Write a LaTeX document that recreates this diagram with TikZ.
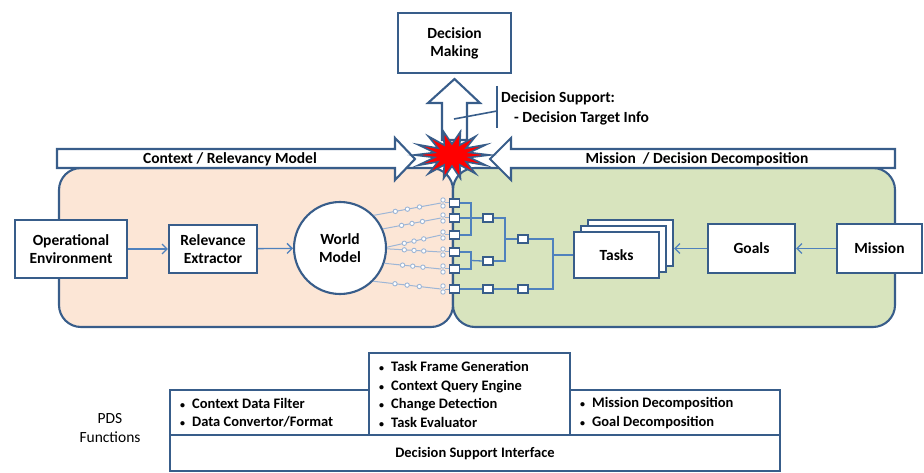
\documentclass[tikz,border=0pt]{standalone}
\usepackage{fontspec}
\setmainfont{Carlito}
\usetikzlibrary{arrows.meta,calc}
\definecolor{outl}{HTML}{385D8A}
\definecolor{connc}{HTML}{4F81BD}
\definecolor{litec}{HTML}{9DB6D6}
\definecolor{peach}{HTML}{FCE6D6}
\definecolor{greenp}{HTML}{D8E4BE}
\newcommand{\smbul}{{\fontsize{10}{10}\selectfont\textbullet}\hspace{7pt}}
\begin{document}
\begin{tikzpicture}[x=1pt,y=-1pt,
  box/.style={draw=outl, line width=2.1pt, fill=white, align=center, inner sep=0pt,
    font=\bfseries\fontsize{15.5}{18}\selectfont},
  panel/.style={draw=outl, line width=2.1pt, rounded corners=22pt},
  blockarrow/.style={draw=outl, line width=2.1pt, fill=white},
  lbl/.style={font=\bfseries\fontsize{15.5}{20}\selectfont, inner sep=0pt},
  listtxt/.style={font=\bfseries\fontsize{14.5}{18.5}\selectfont, align=left, inner sep=0pt},
  conn/.style={draw=connc, line width=1.3pt},
  arr/.style={conn, -{Straight Barb[length=5pt,width=10pt]}},
  lite/.style={draw=litec, line width=1pt},
  dotst/.style={draw=litec, fill=white, line width=0.9pt},
  port/.style={draw=outl, fill=white, line width=1.3pt, minimum width=10pt, minimum height=8pt, inner sep=0pt},
  starst/.style={draw=outl, fill=red, line width=1.6pt, line join=miter}
]
\useasboundingbox (0,0) rectangle (924,473);

% panels
\draw[panel, fill=peach] (59,168) rectangle (453,327);
\draw[panel, fill=greenp] (453,168) rectangle (895,327);

% block arrows
\draw[blockarrow] (57,149) -- (395,149) -- (395,138) -- (415,159) -- (395,180) -- (395,168) -- (57,168) -- cycle;
\draw[blockarrow] (895,149) -- (511,149) -- (511,138) -- (490,159) -- (511,180) -- (511,168) -- (895,168) -- cycle;
\node[lbl] (ctxlbl) at (230,159) {Context / Relevancy Model};
\node[lbl] (mislbl) at (697,159) {Mission \ / Decision Decomposition};
\draw[blockarrow] (442,140) -- (442,103) -- (428,103) -- (454.5,79) -- (480,103) -- (467,103) -- (467,140) -- cycle;

% decision making
\node[box, minimum width=113pt, minimum height=60pt] (dm) at (454.5,43) {Decision\\Making};

% decision support callout
\coordinate (dsa) at (454,119);
\coordinate (dsb) at (497,111);
\draw[outl, line width=1.6pt] (dsa) -- (dsb);
\draw[outl, line width=1.6pt] (497,86) -- (497,128);
\node[lbl, anchor=west, align=left] (dstxt) at (501,108) {Decision Support:\\\hspace{13pt}- Decision Target Info};

% star
\draw[starst] (490,155) \foreach \i in {1,...,27} { -- ({452+ifthenelse(isodd(\i),18,38)*cos(\i*12.857)},{155+ifthenelse(isodd(\i),11,24)*sin(\i*12.857)}) } -- cycle;

% left chain
\node[box, minimum width=112pt, minimum height=58pt] (openv) at (71,249) {Operational\\Environment};
\node[box, minimum width=88pt, minimum height=48pt] (relx) at (213,249) {Relevance\\Extractor};
\node[box, circle, minimum size=92pt] (wm) at (340,248) {World\\Model};
\draw[arr] (openv) -- (relx);
\draw[arr] (relx) -- (wm);

% ports
\foreach \n/\y in {1/203,2/218,3/235,4/252,5/269,6/289}
  \node[port] (sq\n) at (454.5,\y) {};

% world model lines
\foreach \n/\a/\y in {1/44/203,2/24/218,3/1/235,4/-1/252,5/-19/269,6/-45/289} {
  \draw[lite] (wm.\a) -- (441,\y);
  \foreach \p in {0.32,0.5,0.68}
    \filldraw[dotst] ($(wm.\a)!\p!(441,\y)$) circle (2.2);
  \draw[lite] (445,\y) -- (sq\n.west);
  \filldraw[dotst] (443,\y-3) circle (2.2);
  \filldraw[dotst] (443,\y+3) circle (2.2);
}

% tree nodes
\node[port] (ja) at (488,218) {};
\node[port] (jb) at (488,261) {};
\node[port] (jc) at (488,289) {};
\node[port] (jd) at (523,289) {};
\node[port] (je) at (523,239) {};

% tasks stack
\draw[outl, line width=2.1pt, fill=white] (588,220) rectangle (673,266);
\draw[outl, line width=2.1pt, fill=white] (581,226) rectangle (666,272);
\node[box, minimum width=85pt, minimum height=46pt] (tasks) at (616.5,255) {Tasks};
\node[box, minimum width=87pt, minimum height=49pt] (goals) at (751.5,248.5) {Goals};
\node[box, minimum width=85pt, minimum height=49pt] (mission) at (879.5,248.5) {Mission};
\coordinate (tback) at (674,248.5);
\draw[arr] (mission) -- (goals);
\draw[arr] (goals.west) -- (tback);

% tree connectors
\coordinate (b1) at (471,218);
\coordinate (b2) at (471,260.5);
\coordinate (b3) at (505,239);
\coordinate (b4) at (553,255);
\draw[conn] (sq1.east) -| (b1);
\draw[conn] (sq3.east) -| (b1);
\draw[conn] (sq2.east) -- (ja.west);
\draw[conn] (sq4.east) -| (b2);
\draw[conn] (sq5.east) -| (b2);
\draw[conn] (b2) -- (jb.west);
\draw[conn] (ja.east) -| (b3);
\draw[conn] (jb.east) -| (b3);
\draw[conn] (b3) -- (je.west);
\draw[conn] (sq6.east) -- (jc.west);
\draw[conn] (jc.east) -- (jd.west);
\draw[conn] (je.east) -| (b4);
\draw[conn] (jd.east) -| (b4);
\draw[conn] (b4) -- (tasks.west);

% bottom PDS functions
\node[listtxt, font=\fontsize{15.5}{19}\selectfont, align=center] (pds) at (110,428) {PDS\\Functions};
\draw[outl, line width=2.1pt, fill=white] (170,390) rectangle (369,435);
\draw[outl, line width=2.1pt, fill=white] (369,353) rectangle (570,435);
\draw[outl, line width=2.1pt, fill=white] (570,390) rectangle (780,435);
\draw[outl, line width=2.1pt, fill=white] (170,435) rectangle (780,471);
\node[listtxt, anchor=west] (f1) at (180,412.5) {\smbul Context Data Filter\\\smbul Data Convertor/Format};
\node[listtxt, anchor=west] (f2) at (379,394.5) {\smbul Task Frame Generation\\\smbul Context Query Engine\\\smbul Change Detection\\\smbul Task Evaluator};
\node[listtxt, anchor=west] (f3) at (580,413) {\smbul Mission Decomposition\\\smbul Goal Decomposition};
\node[listtxt] (dsi) at (475,454) {Decision Support Interface};
\end{tikzpicture}
\end{document}
